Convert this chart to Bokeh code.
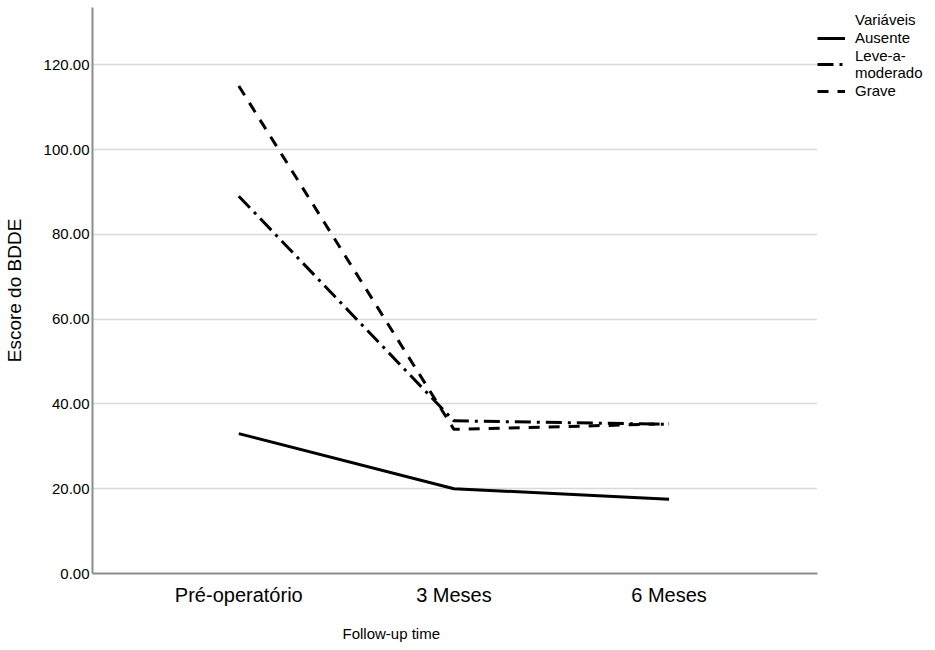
from bokeh.plotting import figure
from bokeh.models import Range1d, FixedTicker, NumeralTickFormatter, Legend, LegendItem, Title
from bokeh.embed import file_html
from bokeh.resources import INLINE

categories = ["Pré-operatório", "3 Meses", "6 Meses"]
ausente = [33.0, 20.0, 17.5]
leve = [89.0, 36.0, 35.2]
grave = [115.0, 34.0, 35.3]
y_ticks = [0, 20, 40, 60, 80, 100, 120]

FONT = "Liberation Sans"
xs = list(range(len(categories)))

p = figure(frame_width=725, frame_height=566, output_backend="svg", toolbar_location=None,
           x_range=Range1d(-0.68, 2.69), y_range=Range1d(0, 133.5),
           min_border_left=90, min_border_right=40, min_border_top=7, min_border_bottom=60)
p.outline_line_color = None
p.background_fill_color = "white"
p.border_fill_color = "white"

r0 = p.line(xs, ausente, line_alpha=0)
r1 = p.line(xs, ausente, line_color="black", line_width=3)
r2 = p.line(xs, leve, line_color="black", line_width=3, line_dash="16 6 3 6")
r3 = p.line(xs, grave, line_color="black", line_width=3, line_dash="11 9")

p.xgrid.visible = False
p.ygrid.ticker = FixedTicker(ticks=y_ticks[1:])
p.ygrid.grid_line_color = "#d9d9d9"
p.ygrid.grid_line_width = 1.5

p.yaxis.ticker = FixedTicker(ticks=y_ticks)
p.yaxis.formatter = NumeralTickFormatter(format="0.00")
p.xaxis.ticker = FixedTicker(ticks=xs)
p.xaxis.major_label_overrides = {i: c for i, c in enumerate(categories)}
for ax in (p.xaxis, p.yaxis):
    ax.axis_line_color = "#8c8c8c"
    ax.axis_line_width = 2
    ax.major_tick_line_color = None
    ax.minor_tick_line_color = None
    ax.major_label_text_font = FONT
    ax.major_label_text_color = "black"
p.yaxis.major_label_text_font_size = "15px"
p.yaxis.major_label_standoff = -3
p.xaxis.major_label_text_font_size = "20px"
p.xaxis.major_label_standoff = 4
p.yaxis.axis_label = "Escore do BDDE"
p.yaxis.axis_label_text_font = FONT
p.yaxis.axis_label_text_color = "black"
p.yaxis.axis_label_text_font_style = "normal"
p.yaxis.axis_label_text_font_size = "19px"
p.yaxis.axis_label_standoff = 16

xt = Title(text="Follow-up time", align="left", offset=250, text_font=FONT,
           text_font_size="15px", text_font_style="normal", text_color="black", standoff=29)
p.add_layout(xt, "below")

legend = Legend(items=[LegendItem(label="Variáveis", renderers=[r0]),
                       LegendItem(label="Ausente", renderers=[r1]),
                       LegendItem(label="Leve-a-\nmoderado", renderers=[r2]),
                       LegendItem(label="Grave", renderers=[r3])],
                location="top_left", title=" ")
legend.title_text_font_size = "2px"
legend.title_standoff = 2
legend.label_text_font = FONT
legend.label_text_font_size = "15px"
legend.label_text_color = "black"
legend.label_text_line_height = 0.65
legend.glyph_width = 28
legend.glyph_height = 14
legend.label_standoff = 10
legend.spacing = 1
legend.padding = 3
legend.margin = 0
legend.border_line_color = None
legend.background_fill_alpha = 0
p.add_layout(legend, "right")

open("out.html", "w").write(file_html(p, INLINE))
